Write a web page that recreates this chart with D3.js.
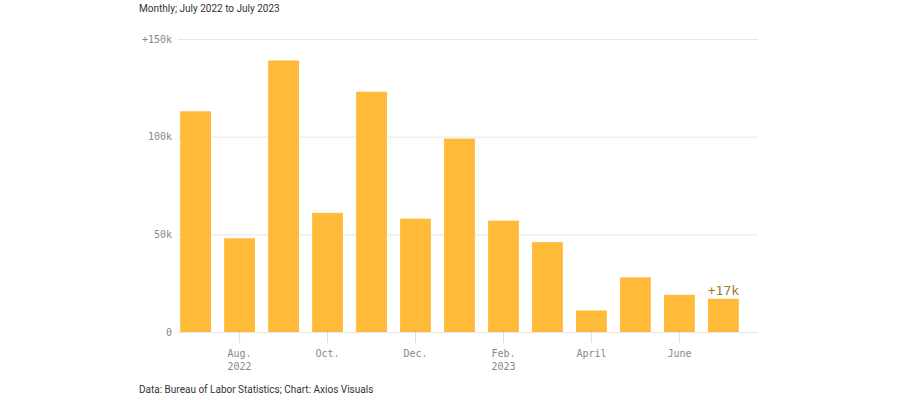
<!DOCTYPE html>
<html>
<head>
    <meta charset="UTF-8">
    <title>Monthly job change</title>
    <style type="text/css">
        body { margin: 0; background: #fff; }
        .note { font-family: "Roboto", "Noto Sans", sans-serif; font-size: 10px; fill: #333; }
        .axis text { font-family: "DejaVu Sans Mono", monospace; font-size: 10px; fill: #888; }
        .grid line { stroke: #e6e6e6; }
        .grid path { display: none; }
        .bar { fill: #ffba3a; }
    </style>
    <script src="https://d3js.org/d3.v7.min.js"></script>
</head>
<body>
<script type="text/javascript">
    // monthly change, thousands of jobs
    var months = ["Jul 2022", "Aug 2022", "Sep 2022", "Oct 2022", "Nov 2022", "Dec 2022",
        "Jan 2023", "Feb 2023", "Mar 2023", "Apr 2023", "May 2023", "Jun 2023", "Jul 2023"];
    var values = [113, 48, 139, 61, 123, 58, 99, 57, 46, 11, 28, 19, 17];
    var xTicks = ["Aug 2022", "Oct 2022", "Dec 2022", "Feb 2023", "Apr 2023", "Jun 2023"];
    var xTickLabels = [["Aug.", "2022"], ["Oct."], ["Dec."], ["Feb.", "2023"], ["April"], ["June"]];
    var yTicks = [0, 50, 100, 150];
    var lastLabel = "+17k";

    var width = 900, height = 400;
    var margin = { top: 39, right: 142, bottom: 68, left: 178 };
    var plotW = width - margin.left - margin.right,
        plotH = height - margin.top - margin.bottom;

    var svg = d3.select("body").append("svg")
        .attr("width", width)
        .attr("height", height);

    svg.append("text")
        .attr("class", "note")
        .attr("x", 139)
        .attr("y", 12)
        .text("Monthly; July 2022 to July 2023");

    svg.append("text")
        .attr("class", "note")
        .attr("x", 139)
        .attr("y", 393)
        .text("Data: Bureau of Labor Statistics; Chart: Axios Visuals");

    var g = svg.append("g")
        .attr("transform", "translate(" + margin.left + "," + margin.top + ")");

    var y = d3.scaleLinear().domain([0, 150]).range([plotH, 0]);
    var x = d3.scaleBand().domain(months).range([0, 563]).paddingInner(0.3).paddingOuter(0.05);

    // gridlines + y labels
    g.append("g")
        .attr("class", "axis grid")
        .call(d3.axisLeft(y)
            .tickValues(yTicks)
            .tickSize(-580)
            .tickPadding(6)
            .tickFormat(function(d) {
                if (d === 0) return "0";
                return (d === 150 ? "+" : "") + d + "k";
            }));

    // bars
    g.selectAll(".bar")
        .data(values)
        .enter().append("rect")
        .attr("class", "bar")
        .attr("x", function(d, i) { return x(months[i]); })
        .attr("y", function(d) { return y(d); })
        .attr("width", x.bandwidth())
        .attr("height", function(d) { return y(0) - y(d); });

    // x axis
    var xAxis = g.append("g")
        .attr("class", "axis")
        .attr("transform", "translate(0," + plotH + ")")
        .call(d3.axisBottom(x).tickValues(xTicks).tickSize(11).tickFormat(""));
    xAxis.select(".domain").remove();
    xAxis.selectAll(".tick line").attr("stroke", "#ddd");
    xAxis.selectAll(".tick").each(function(d, i) {
        var t = d3.select(this).append("text")
            .attr("text-anchor", "middle")
            .attr("y", 25);
        xTickLabels[i].forEach(function(s, j) {
            t.append("tspan").attr("x", 0).attr("dy", j === 0 ? 0 : 13).text(s);
        });
    });

    // label for latest month
    var last = months.length - 1;
    g.append("text")
        .attr("x", x(months[last]) + x.bandwidth() / 2)
        .attr("y", y(values[last]) - 4)
        .attr("text-anchor", "middle")
        .style("font-family", "DejaVu Sans Mono, monospace")
        .style("font-size", "13px")
        .style("fill", "#a47a1f")
        .text(lastLabel);
</script>
</body>
</html>
